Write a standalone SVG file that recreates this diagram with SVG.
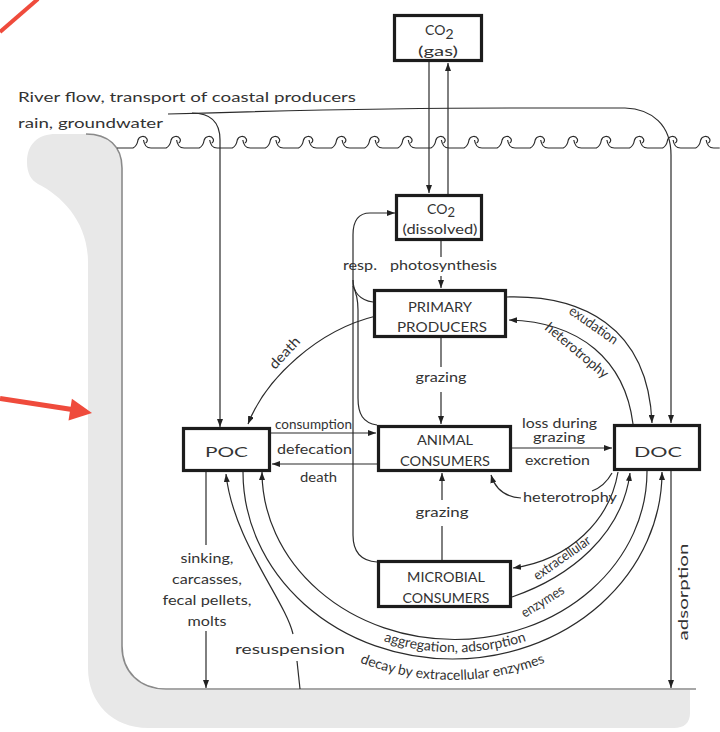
<svg xmlns="http://www.w3.org/2000/svg" width="720" height="732" viewBox="0 0 720 732">
<style>
.ln{fill:none;stroke:#2b2b2b;stroke-width:1.2}
.ar{marker-end:url(#ah)}
.box{fill:#fff;stroke:#1c1c1c;stroke-width:3.2}
.t{font-family:Lato,"Open Sans",sans-serif;fill:#333;font-size:14px}
.m{text-anchor:middle}
</style>
<defs>
<marker id="ah" viewBox="0 0 8 6" refX="8" refY="3" markerWidth="8" markerHeight="6" markerUnits="userSpaceOnUse" orient="auto">
<path d="M0,0 L8,3 L0,6 Z" fill="#222"/>
</marker>
<path id="pAgg" d="M370,636 A205,180 0 0 0 540,636"/>
<path id="pDec" d="M345,656 A230,206 0 0 0 560,656"/>
</defs>
<rect width="720" height="732" fill="#fff"/>
<g id="basin">
<path d="M27,162 C27,144 38,134 56,134 L90,134 C110,134 122,147 122,168 L122,646 C122,672 140,690 166,690 L690,690 L690,713 C690,723 684,728 674,728 L148,728 C113,728 88,703 88,668 L88,262 C88,222 62,196 38,184 C31,180 27,173 27,162 Z" fill="#e8e8e8"/>
<path d="M86,134 C108,134 122,146 122,168 L122,646 C122,672 140,689 166,689 L696,689" fill="none" stroke="#8a8a8a" stroke-width="1.6"/>
</g>
<g id="water">
<path class="ln" d="M117,148 H133 q4,-2 5,-8c1,-4 7,-5 9,-1c0.6,1.5 0,3.5 -1.5,4m-2,-3c0.5,4 3,8 7.5,8h15.1 q4,-2 5,-8c1,-4 7,-5 9,-1c0.6,1.5 0,3.5 -1.5,4m-2,-3c0.5,4 3,8 7.5,8h15.1 q4,-2 5,-8c1,-4 7,-5 9,-1c0.6,1.5 0,3.5 -1.5,4m-2,-3c0.5,4 3,8 7.5,8h15.1 q4,-2 5,-8c1,-4 7,-5 9,-1c0.6,1.5 0,3.5 -1.5,4m-2,-3c0.5,4 3,8 7.5,8h15.1 q4,-2 5,-8c1,-4 7,-5 9,-1c0.6,1.5 0,3.5 -1.5,4m-2,-3c0.5,4 3,8 7.5,8h15.1 q4,-2 5,-8c1,-4 7,-5 9,-1c0.6,1.5 0,3.5 -1.5,4m-2,-3c0.5,4 3,8 7.5,8h15.1 q4,-2 5,-8c1,-4 7,-5 9,-1c0.6,1.5 0,3.5 -1.5,4m-2,-3c0.5,4 3,8 7.5,8h15.1 q4,-2 5,-8c1,-4 7,-5 9,-1c0.6,1.5 0,3.5 -1.5,4m-2,-3c0.5,4 3,8 7.5,8h15.1 q4,-2 5,-8c1,-4 7,-5 9,-1c0.6,1.5 0,3.5 -1.5,4m-2,-3c0.5,4 3,8 7.5,8h15.1 q4,-2 5,-8c1,-4 7,-5 9,-1c0.6,1.5 0,3.5 -1.5,4m-2,-3c0.5,4 3,8 7.5,8h15.1 q4,-2 5,-8c1,-4 7,-5 9,-1c0.6,1.5 0,3.5 -1.5,4m-2,-3c0.5,4 3,8 7.5,8h15.1 q4,-2 5,-8c1,-4 7,-5 9,-1c0.6,1.5 0,3.5 -1.5,4m-2,-3c0.5,4 3,8 7.5,8h15.1 q4,-2 5,-8c1,-4 7,-5 9,-1c0.6,1.5 0,3.5 -1.5,4m-2,-3c0.5,4 3,8 7.5,8h15.1 q4,-2 5,-8c1,-4 7,-5 9,-1c0.6,1.5 0,3.5 -1.5,4m-2,-3c0.5,4 3,8 7.5,8h15.1 q4,-2 5,-8c1,-4 7,-5 9,-1c0.6,1.5 0,3.5 -1.5,4m-2,-3c0.5,4 3,8 7.5,8h15.1 q4,-2 5,-8c1,-4 7,-5 9,-1c0.6,1.5 0,3.5 -1.5,4m-2,-3c0.5,4 3,8 7.5,8h15.1 q4,-2 5,-8c1,-4 7,-5 9,-1c0.6,1.5 0,3.5 -1.5,4m-2,-3c0.5,4 3,8 7.5,8h15.1 q4,-2 5,-8c1,-4 7,-5 9,-1c0.6,1.5 0,3.5 -1.5,4m-2,-3c0.5,4 3,8 7.5,8h6"/>
</g>
<g id="annotations">
<line x1="0" y1="32" x2="38" y2="-1" stroke="#ef4b3c" stroke-width="4"/>
<line x1="0" y1="398.5" x2="72" y2="409.5" stroke="#ef4b3c" stroke-width="5"/>
<polygon points="92,413 68.5,420.6 71.9,398.8" fill="#ef4b3c"/>
</g>
<g id="connectors">
<path class="ln ar" d="M168,114 C300,110 400,108 520,108 L625,108 C652,109 671,125 671,155 L671,423"/>
<path class="ln ar" d="M192,113 C210,113 220,121 220,140 L220,427"/>
<path class="ln ar" d="M429,62 V193"/>
<path class="ln ar" d="M448,194 V63"/>
<path class="ln" d="M441,241 V257"/>
<path class="ln ar" d="M441,276 V288"/>
<path class="ln ar" d="M377,562 C361,561 353,552 353,535 L353,235 C353,221 358,213 370,213 L395,213"/>
<path class="ln" d="M373,302 C360,300 353,292 353,280"/>
<path class="ln" d="M377,425 C363,423 358,414 358,398 L358,310 C358,300 356,292 353,286"/>
<path class="ln ar" d="M376,316 C318,330 266,378 248,424"/>
<path class="ln" d="M441,338 V367"/>
<path class="ln ar" d="M441,392 V424"/>
<path class="ln" d="M442,560 V526"/>
<path class="ln ar" d="M442,500 V473"/>
<path class="ln ar" d="M271,433 H376"/>
<path class="ln ar" d="M377,464 H272"/>
<path class="ln ar" d="M512,448 H612"/>
<path class="ln ar" d="M507,297 C580,295 648,325 652,423"/>
<path class="ln ar" d="M633,424 C625,360 580,322 509,320"/>
<path class="ln" d="M612,473 C607,482 600,488 592,491"/>
<path class="ln ar" d="M521,498 C505,497 495,488 491,475"/>
<path class="ln ar" d="M618,472 C610,520 570,560 513,568"/>
<path class="ln ar" d="M512,597 C570,577 622,535 630,473"/>
<path class="ln ar" d="M647,471 A192.5,168 0 0 1 262,472"/>
<path class="ln ar" d="M243,472 A209.5,187 0 0 0 662,472"/>
<path class="ln" d="M300,689 L297,661"/>
<path class="ln ar" d="M293,634 C285,600 233,540 226,474"/>
<path class="ln" d="M206,472 V545"/>
<path class="ln ar" d="M206,631 V688"/>
<path class="ln ar" d="M671,471 V688"/>
</g>
<g id="labels">
<text class="t" x="18" y="102" font-size="18" textLength="338" lengthAdjust="spacingAndGlyphs">River flow, transport of coastal producers</text>
<text class="t" x="18" y="128" font-size="18" textLength="145" lengthAdjust="spacingAndGlyphs">rain, groundwater</text>
<text class="t" x="390" y="270" textLength="107" lengthAdjust="spacingAndGlyphs">photosynthesis</text>
<text class="t" x="343" y="270" textLength="34" lengthAdjust="spacingAndGlyphs">resp.</text>
<text class="t m" x="441" y="382" textLength="51" lengthAdjust="spacingAndGlyphs">grazing</text>
<text class="t m" x="442" y="517" textLength="53" lengthAdjust="spacingAndGlyphs">grazing</text>
<text class="t" x="275" y="429" font-size="12.5" textLength="77" lengthAdjust="spacingAndGlyphs">consumption</text>
<text class="t" x="277" y="454" textLength="75" lengthAdjust="spacingAndGlyphs">defecation</text>
<text class="t" x="300" y="482" textLength="37" lengthAdjust="spacingAndGlyphs">death</text>
<text class="t" x="522" y="428" textLength="75" lengthAdjust="spacingAndGlyphs">loss during</text>
<text class="t" x="533" y="442" textLength="52" lengthAdjust="spacingAndGlyphs">grazing</text>
<text class="t" x="525" y="465" textLength="65" lengthAdjust="spacingAndGlyphs">excretion</text>
<text class="t" x="523" y="502" font-size="15" textLength="94" lengthAdjust="spacingAndGlyphs">heterotrophy</text>
<text class="t m" x="207" y="563" textLength="53" lengthAdjust="spacingAndGlyphs">sinking,</text>
<text class="t m" x="207" y="584" textLength="70" lengthAdjust="spacingAndGlyphs">carcasses,</text>
<text class="t m" x="207" y="605" textLength="89" lengthAdjust="spacingAndGlyphs">fecal pellets,</text>
<text class="t m" x="207" y="626" textLength="39" lengthAdjust="spacingAndGlyphs">molts</text>
<text class="t" x="235" y="654" font-size="18" textLength="110" lengthAdjust="spacingAndGlyphs">resuspension</text>
<text class="t m" transform="translate(688,592) rotate(-90)" font-size="17" textLength="97" lengthAdjust="spacingAndGlyphs">adsorption</text>
<text class="t m" transform="translate(288,356) rotate(-47)" textLength="38" lengthAdjust="spacingAndGlyphs">death</text>
<text class="t m" transform="translate(591,329) rotate(35)" font-size="13" textLength="56" lengthAdjust="spacingAndGlyphs">exudation</text>
<text class="t m" transform="translate(574,354) rotate(40)" font-size="13" textLength="78" lengthAdjust="spacingAndGlyphs">heterotrophy</text>
<text class="t m" transform="translate(564.6,561.7) rotate(-35)" font-size="13" textLength="66" lengthAdjust="spacingAndGlyphs">extracellular</text>
<text class="t m" transform="translate(545,605.4) rotate(-32)" font-size="13" textLength="48" lengthAdjust="spacingAndGlyphs">enzymes</text>
<text class="t" font-size="13"><textPath href="#pAgg" startOffset="50%" text-anchor="middle">aggregation, adsorption</textPath></text>
<text class="t" font-size="13.5"><textPath href="#pDec" startOffset="50%" text-anchor="middle">decay by extracellular enzymes</textPath></text>
</g>
<g id="co2-gas">
<rect class="box" x="394.5" y="15.5" width="87" height="45"/>
<text class="t" x="425" y="35" font-size="17">CO<tspan dy="4" font-size="14">2</tspan></text>
<text class="t m" x="438" y="56" font-size="15" textLength="40" lengthAdjust="spacingAndGlyphs">(gas)</text>
</g>
<g id="co2-dissolved">
<rect class="box" x="396.5" y="195.5" width="85" height="44"/>
<text class="t" x="427" y="214" font-size="17">CO<tspan dy="3" font-size="13">2</tspan></text>
<text class="t m" x="440" y="234" textLength="75" lengthAdjust="spacingAndGlyphs">(dissolved)</text>
</g>
<g id="primary-producers">
<rect class="box" x="374.5" y="290.5" width="131" height="46"/>
<text class="t m" x="440" y="312" font-size="13.5" textLength="64" lengthAdjust="spacingAndGlyphs">PRIMARY</text>
<text class="t m" x="442" y="332" font-size="13.5" textLength="90" lengthAdjust="spacingAndGlyphs">PRODUCERS</text>
</g>
<g id="animal-consumers">
<rect class="box" x="378.5" y="426.5" width="132" height="44"/>
<text class="t m" x="445" y="445" font-size="13.5" textLength="56" lengthAdjust="spacingAndGlyphs">ANIMAL</text>
<text class="t m" x="445" y="466" font-size="13.5" textLength="90" lengthAdjust="spacingAndGlyphs">CONSUMERS</text>
</g>
<g id="microbial-consumers">
<rect class="box" x="378.5" y="561.5" width="132" height="45"/>
<text class="t m" x="446" y="582" font-size="13.5" textLength="78" lengthAdjust="spacingAndGlyphs">MICROBIAL</text>
<text class="t m" x="446" y="603" font-size="13.5" textLength="87" lengthAdjust="spacingAndGlyphs">CONSUMERS</text>
</g>
<g id="poc">
<rect class="box" x="183.5" y="428.5" width="86" height="42"/>
<text class="t m" x="226.5" y="457" font-size="23" textLength="43" lengthAdjust="spacingAndGlyphs">POC</text>
</g>
<g id="doc">
<rect class="box" x="614.5" y="425.5" width="85" height="44"/>
<text class="t m" x="658" y="457" font-size="23" textLength="48" lengthAdjust="spacingAndGlyphs">DOC</text>
</g>
</svg>
